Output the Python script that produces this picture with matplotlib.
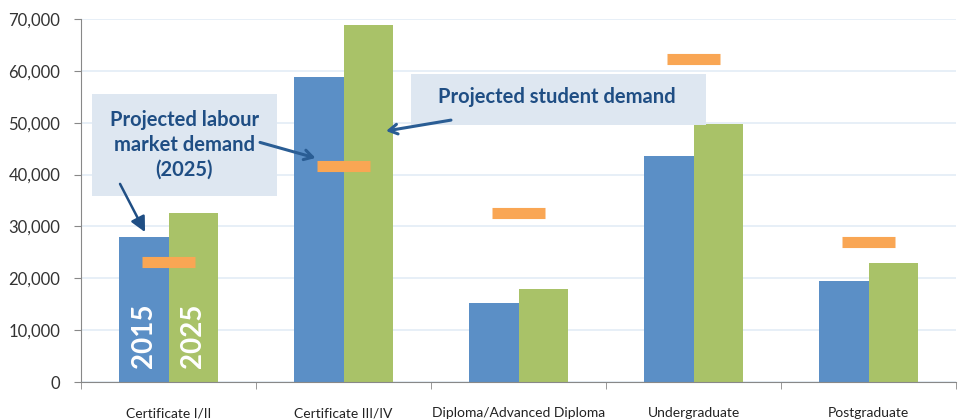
import numpy as np
import matplotlib.pyplot as plt
from matplotlib.patches import Rectangle
from matplotlib.ticker import FuncFormatter, MultipleLocator

# Qualification levels and demand figures
categories = ["Certificate I/II", "Certificate III/IV", "Diploma/Advanced Diploma",
              "Undergraduate", "Postgraduate"]
students_2015 = [28000, 58800, 15200, 43600, 19500]
students_2025 = [32600, 68800, 17900, 49800, 23000]
labour_demand_2025 = [23200, 41600, 32600, 62200, 27000]

blue = "#5b8fc6"
green = "#a9c268"
orange = "#f9a654"
navy = "#1f4e84"
box_bg = "#dee7f1"

plt.rcParams["font.family"] = ["Lato", "DejaVu Sans"]

fig = plt.figure(figsize=(9.62, 4.19), dpi=100)
ax = fig.add_axes([0.0842, 0.0883, 0.9096, 0.8664])

x = np.arange(len(categories))
w = 0.283
ax.bar(x - w / 2, students_2015, w, color=blue, zorder=2)
ax.bar(x + w / 2, students_2025, w, color=green, zorder=2)
ax.hlines(labour_demand_2025, x - 0.15, x + 0.15, colors=orange, linewidth=8, zorder=3)

ax.set_xlim(-0.5, len(categories) - 0.5)
ax.set_ylim(0, 70000)
ax.yaxis.set_major_locator(MultipleLocator(10000))
ax.yaxis.set_major_formatter(FuncFormatter(lambda v, p: f"{int(v):,}"))
ax.grid(axis="y", color="#e3ecf6", linewidth=1.2, zorder=0)

ax.set_xticks(x)
ax.set_xticklabels(categories, fontsize=10, color="#222222")
ax.set_xticks(np.arange(len(categories) + 1) - 0.5, minor=True)
ax.tick_params(axis="x", which="major", length=0, pad=18)
ax.tick_params(axis="x", which="minor", length=5, color="#888888")
ax.tick_params(axis="y", length=5, pad=10, color="#888888", labelsize=12,
               labelcolor="#333333")

for side in ("top", "right"):
    ax.spines[side].set_visible(False)
for side in ("left", "bottom"):
    ax.spines[side].set_color("#888888")

# Year labels inside the first pair of bars
for xi, year in ((x[0] - w / 2, "2015"), (x[0] + w / 2, "2025")):
    ax.text(xi, 2700, year, rotation=90, color="white", fontsize=20,
            fontweight="bold", ha="center", va="bottom", zorder=4)

# Callout boxes
ax.add_patch(Rectangle((-0.437, 35800), 1.057, 19700, fc=box_bg, ec="none", zorder=5))
ax.text(0.091, 45700, "Projected labour\nmarket demand\n(2025)", ha="center", va="center",
        fontsize=14.5, fontweight="bold", color=navy, linespacing=1.3, zorder=6)
ax.add_patch(Rectangle((1.383, 49500), 1.686, 9800, fc=box_bg, ec="none", zorder=5))
ax.text(2.22, 54900, "Projected student demand", ha="center", va="center",
        fontsize=14.5, fontweight="bold", color=navy, zorder=6)

# Arrows from the callouts to the marks
ax.annotate("", xy=(-0.134, 28900), xytext=(-0.277, 38200),
            arrowprops=dict(arrowstyle="-|>,head_length=0.9,head_width=0.45",
                            color=navy, lw=1.8, shrinkA=0, shrinkB=0), zorder=7)
ax.annotate("", xy=(0.84, 43200), xytext=(0.523, 46200),
            arrowprops=dict(arrowstyle="->,head_length=0.6,head_width=0.35",
                            color="#2a5d94", lw=2.2, shrinkA=0, shrinkB=0), zorder=7)
ax.annotate("", xy=(1.243, 48400), xytext=(1.614, 50500),
            arrowprops=dict(arrowstyle="->,head_length=0.6,head_width=0.35",
                            color="#2a5d94", lw=2.2, shrinkA=0, shrinkB=0), zorder=7)

fig.savefig("out.png", dpi=100)
